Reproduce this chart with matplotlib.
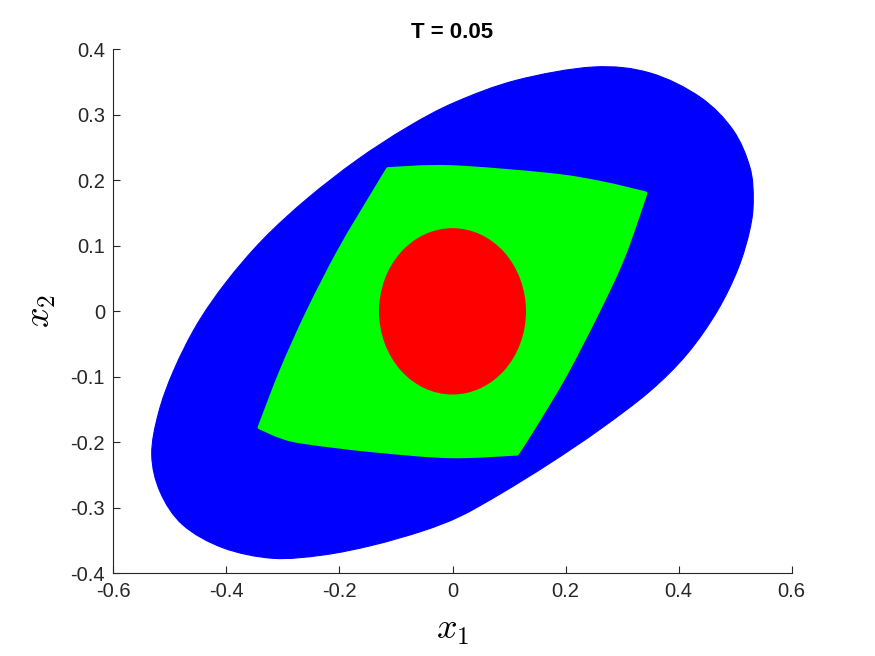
import numpy as np
from matplotlib import pyplot as plt
from matplotlib.patches import PathPatch, Ellipse
from matplotlib.path import Path
import matplotlib as mpl

mpl.rcParams['font.family'] = ['Liberation Sans', 'DejaVu Sans']
mpl.rcParams['mathtext.fontset'] = 'cm'

# outer set (blue), boundary, counter-clockwise
blue_x = [0.532, 0.526, 0.496, 0.438, 0.349, 0.249, 0.114, 0.004, -0.080,
          -0.169, -0.257, -0.335, -0.400, -0.452, -0.493, -0.520, -0.532,
          -0.517, -0.477, -0.406, -0.318, -0.229, -0.141, -0.052, 0.013,
          0.084, 0.172, 0.261, 0.349, 0.415, 0.468, 0.505, 0.526]
blue_y = [0.170, 0.220, 0.277, 0.327, 0.364, 0.373, 0.353, 0.319, 0.281,
          0.231, 0.172, 0.110, 0.045, -0.020, -0.090, -0.155, -0.219,
          -0.276, -0.326, -0.361, -0.377, -0.372, -0.357, -0.335, -0.313,
          -0.279, -0.232, -0.180, -0.122, -0.065, 0.000, 0.065, 0.125]

# middle set (green), four curved edges between its corners
green_top_x = [-0.114, -0.004, 0.172, 0.261, 0.341]
green_top_y = [0.217, 0.220, 0.208, 0.196, 0.180]
green_right_x = [0.341, 0.302, 0.257, 0.199, 0.143, 0.114]
green_right_y = [0.180, 0.084, 0.000, -0.097, -0.178, -0.217]
green_bottom_x = [0.114, -0.004, -0.141, -0.257, -0.300, -0.341]
green_bottom_y = [-0.217, -0.221, -0.212, -0.200, -0.192, -0.177]
green_left_x = [-0.341, -0.302, -0.255, -0.199, -0.140, -0.114]
green_left_y = [-0.177, -0.090, 0.000, 0.094, 0.180, 0.217]

# initial set (red)
red_center = (0.0, 0.0)
red_rx = 0.130
red_ry = 0.127


def smooth_segments(pts, closed):
    # cubic bezier pieces through the given points (catmull-rom tangents)
    n = len(pts)
    verts, codes = [], []
    last = n if closed else n - 1
    for i in range(last):
        p0 = pts[(i - 1) % n] if (closed or i > 0) else pts[i]
        p1 = pts[i]
        p2 = pts[(i + 1) % n]
        p3 = pts[(i + 2) % n] if (closed or i + 2 < n) else pts[i + 1]
        verts += [p1 + (p2 - p0) / 6.0, p2 - (p3 - p1) / 6.0, p2]
        codes += [Path.CURVE4] * 3
    return verts, codes


def closed_curve(xs, ys):
    pts = np.column_stack([xs, ys])
    v, c = smooth_segments(pts, True)
    return Path([pts[0]] + v, [Path.MOVETO] + c)


def edge_curve(edges):
    verts, codes = [], []
    for xs, ys in edges:
        pts = np.column_stack([xs, ys])
        verts.append(pts[0])
        codes.append(Path.LINETO if verts[1:] else Path.MOVETO)
        v, c = smooth_segments(pts, False)
        verts += v
        codes += c
    verts.append(verts[0])
    codes.append(Path.CLOSEPOLY)
    return Path(verts, codes)


plt.close('all')
fig = plt.figure(figsize=(8.75, 6.56), dpi=100)
ax = fig.add_axes([0.1295, 0.126, 0.9048 - 0.1295, 0.9248 - 0.126])

ax.add_patch(PathPatch(closed_curve(blue_x, blue_y),
                       facecolor='#0000ff', edgecolor='#0000ff', lw=0.8))
green_path = edge_curve([(green_top_x, green_top_y),
                         (green_right_x, green_right_y),
                         (green_bottom_x, green_bottom_y),
                         (green_left_x, green_left_y)])
ax.add_patch(PathPatch(green_path, facecolor='#00ff00', edgecolor='#00ff00',
                       lw=3.0, joinstyle='round'))
ax.add_patch(Ellipse(red_center, 2 * red_rx, 2 * red_ry,
                     facecolor='#ff0000', edgecolor='none'))

ax.set_xlim([-0.6, 0.6])
ax.set_ylim([-0.4, 0.4])
ax.set_xticks(np.arange(-0.6, 0.61, 0.2))
ax.set_yticks(np.arange(-0.4, 0.41, 0.1))
ax.set_xticklabels(['-0.6', '-0.4', '-0.2', '0', '0.2', '0.4', '0.6'])
ax.set_yticklabels(['-0.4', '-0.3', '-0.2', '-0.1', '0', '0.1', '0.2', '0.3', '0.4'])

for s in ['top', 'right']:
    ax.spines[s].set_visible(False)
for s in ['left', 'bottom']:
    ax.spines[s].set_color('#262626')
    ax.spines[s].set_linewidth(0.8)
ax.tick_params(direction='in', length=4.8, width=0.8, colors='#262626',
               labelsize=14.5, pad=6)

ax.set_title('T = 0.05', fontsize=16, fontweight='bold', pad=8)
ax.set_xlabel('$x_1$', fontsize=26, labelpad=8)
ax.set_ylabel('$x_2$', fontsize=26, labelpad=9)

plt.savefig('out.png', dpi=100)
